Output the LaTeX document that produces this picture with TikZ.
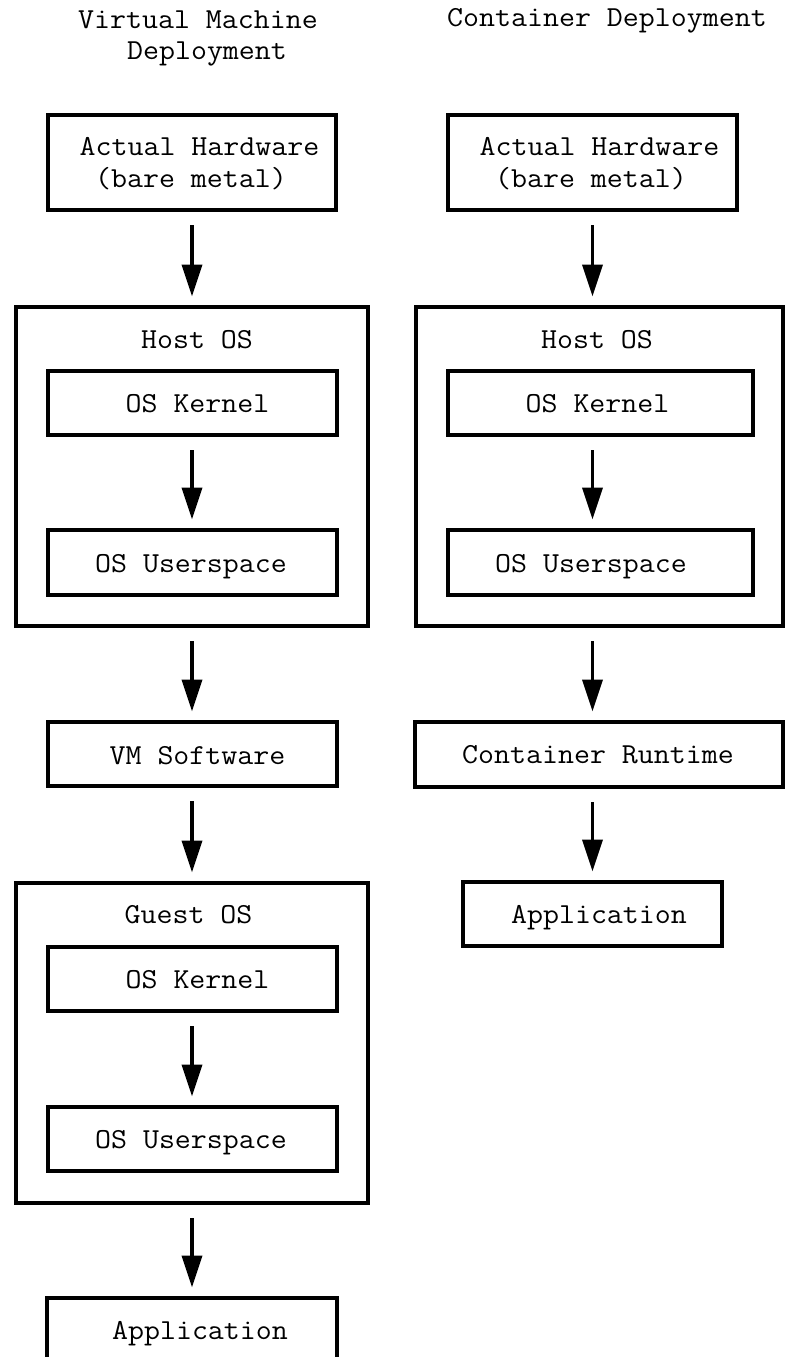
\documentclass[tikz,border=0pt]{standalone}
\usepackage{fontspec}
\setmonofont{Latin Modern Mono}[FakeStretch=1.07]
\usetikzlibrary{arrows.meta}
\begin{document}
\begin{tikzpicture}[x=1pt,y=-1pt,
  box/.style={draw, line width=3.6pt, inner sep=0pt, outer sep=0pt},
  txt/.style={anchor=base, inner sep=0pt, outer sep=0pt, font=\ttfamily\fontsize{29}{33}\selectfont},
  arr/.style={line width=3.6pt, -{Triangle[length=32pt,width=20pt]}, shorten <=15pt, shorten >=10.5pt}
]
\useasboundingbox (0,0) rectangle (786,1357);
\clip (0,0) rectangle (786,1357);

% titles
\node[txt] (t1) at (198,28) {Virtual Machine};
\node[txt] (t2) at (207,59) {Deployment};
\node[txt] (t3) at (607,27) {Container Deployment};

% left column boxes
\node[box, minimum width=288pt, minimum height=95pt] (hw1) at (192,162.5) {};
\node[box, minimum width=352pt, minimum height=319pt] (host1) at (192,466.5) {};
\node[box, minimum width=289pt, minimum height=64pt] (k1) at (192.5,403) {};
\node[box, minimum width=289pt, minimum height=65pt] (u1) at (192.5,562.5) {};
\node[box, minimum width=289pt, minimum height=64pt] (vm) at (192.5,754) {};
\node[box, minimum width=352pt, minimum height=320pt] (guest) at (192,1043) {};
\node[box, minimum width=289pt, minimum height=64pt] (k2) at (192.5,979) {};
\node[box, minimum width=289pt, minimum height=64pt] (u2) at (192.5,1139) {};
\node[box, minimum width=290pt, minimum height=64pt] (app1) at (192,1330) {};

% left column texts
\node[txt] (l1a) at (199.5,155) {Actual Hardware};
\node[txt] (l1b) at (191,187) {(bare metal)};
\node[txt] (l2) at (197,348) {Host OS};
\node[txt] (l3) at (197.5,412) {OS Kernel};
\node[txt] (l4) at (191,572) {OS Userspace};
\node[txt] (l5) at (197.5,764) {VM Software};
\node[txt] (l6) at (188.5,923) {Guest OS};
\node[txt] (l7) at (197.5,988) {OS Kernel};
\node[txt] (l8) at (191,1148) {OS Userspace};
\node[txt] (l9) at (200,1339) {Application};

% right column boxes
\node[box, minimum width=289pt, minimum height=95pt] (hw2) at (592.5,162.5) {};
\node[box, minimum width=367pt, minimum height=319pt] (host2) at (599.5,466.5) {};
\node[box, minimum width=305pt, minimum height=64pt] (k3) at (600.5,403) {};
\node[box, minimum width=305pt, minimum height=65pt] (u3) at (600.5,562.5) {};
\node[box, minimum width=368pt, minimum height=65pt] (cr) at (599,754.5) {};
\node[box, minimum width=259pt, minimum height=64pt] (app2) at (592.5,914) {};

% right column texts
\node[txt] (r1a) at (599.5,155) {Actual Hardware};
\node[txt] (r1b) at (591,187) {(bare metal)};
\node[txt] (r2) at (597,348) {Host OS};
\node[txt] (r3) at (597.5,412) {OS Kernel};
\node[txt] (r4) at (591,572) {OS Userspace};
\node[txt] (r5) at (598,763) {Container Runtime};
\node[txt] (r6) at (599,923) {Application};

% left arrows
\draw[arr] (hw1.south) -- (host1.north);
\draw[arr] (k1.south -| hw1.south) -- (u1.north -| hw1.south);
\draw[arr] (host1.south) -- (vm.north -| host1.south);
\draw[arr] (vm.south -| host1.south) -- (guest.north);
\draw[arr] (k2.south -| hw1.south) -- (u2.north -| hw1.south);
\draw[arr] (guest.south) -- (app1.north);

% right arrows
\draw[arr] (hw2.south) -- (host2.north -| hw2.south);
\draw[arr] (k3.south -| hw2.south) -- (u3.north -| hw2.south);
\draw[arr] (host2.south -| hw2.south) -- (cr.north -| hw2.south);
\draw[arr] (cr.south -| hw2.south) -- (app2.north);
\end{tikzpicture}
\end{document}
